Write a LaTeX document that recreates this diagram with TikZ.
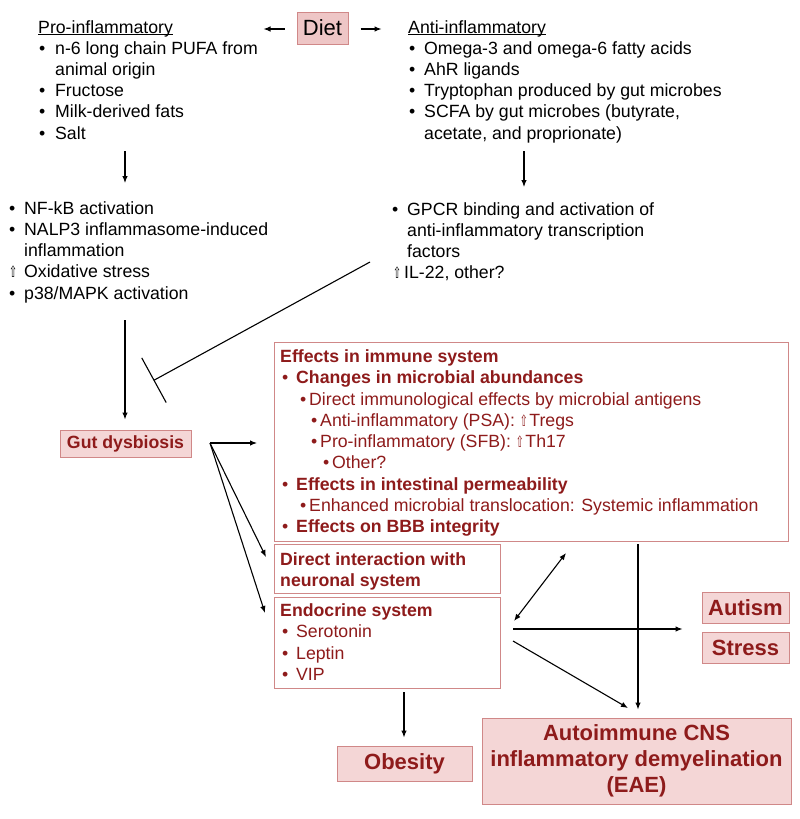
\documentclass[tikz,border=0pt]{standalone}
\usepackage{fontspec}
\usepackage{graphicx}
\setmainfont{Liberation Sans}
\newfontfamily\sym{DejaVu Sans}
\usetikzlibrary{arrows.meta}
\definecolor{dred}{HTML}{8E1B1B}
\definecolor{pinkfill}{HTML}{F4D6D6}
\definecolor{pinkdraw}{HTML}{D08888}
\definecolor{dietfill}{HTML}{EEC6C6}
\newcommand\itm[2]{\hspace*{#1}\makebox[\dimexpr#2-#1\relax][l]{•}}
\newcommand\up{\scalebox{0.62}[1]{\sym\fontsize{15.5}{15.5}\selectfont ⇧}\hspace{1.5pt}}
\newcommand\upi[2]{\hspace*{#1}\makebox[\dimexpr#2-#1\relax][l]{\up}}
\newcommand\ulin[1]{\setbox0\hbox{#1}\rlap{\rule[-2.2pt]{\wd0}{0.9pt}}\box0}
\newcommand\blk[1]{\begin{tabular}[t]{@{}l@{}}#1\end{tabular}}
\tikzset{
  txt/.style={inner sep=0pt, anchor=base west, font=\fontsize{17.7}{21.25}\selectfont},
  rtxt/.style={txt, text=dred},
  wbox/.style={draw=pinkdraw, line width=1pt, fill=white, inner sep=0pt, anchor=north west},
  pbox/.style={draw=pinkdraw, line width=1pt, fill=pinkfill, inner sep=0pt, text=dred},
  arr/.style={-{Latex[length=7pt,width=5.5pt]}, line width=1.1pt},
  darr/.style={{Latex[length=7pt,width=5.5pt]}-{Latex[length=7pt,width=5.5pt]}, line width=1.1pt},
}
\begin{document}
\begin{tikzpicture}[x=1pt,y=-1pt]
\useasboundingbox (0,0) rectangle (800,819);

% Diet
\node[draw=pinkdraw, line width=1pt, fill=dietfill, inner sep=0pt, minimum width=51pt, minimum height=32pt,
      font=\fontsize{22}{26}\selectfont] (diet) at (322.5,28) {Diet};
\draw[arr] ([xshift=-12pt,yshift=-1pt]diet.west) coordinate (dl) -- ++(-21pt,0) coordinate (dle);
\draw[arr] ([xshift=12pt,yshift=-1pt]diet.east) coordinate (dr) -- ++(21pt,0) coordinate (dre);

% top text blocks
\node[txt] (pro) at (38,33) {\blk{%
\ulin{Pro-inflammatory}\\
\itm{1pt}{17pt}n-6 long chain PUFA from\\
\hspace*{17pt}animal origin\\
\itm{1pt}{17pt}Fructose\\
\itm{1pt}{17pt}Milk-derived fats\\
\itm{1pt}{17pt}Salt}};

\node[txt] (anti) at (408,33) {\blk{%
\ulin{Anti-inflammatory}\\
\itm{1pt}{16pt}Omega-3 and omega-6 fatty acids\\
\itm{1pt}{16pt}AhR ligands\\
\itm{1pt}{16pt}Tryptophan produced by gut microbes\\
\itm{1pt}{16pt}SCFA by gut microbes (butyrate,\\
\hspace*{16pt}acetate, and proprionate)}};

% middle text blocks
\node[txt] (procons) at (8,214) {\blk{%
\itm{1pt}{16pt}NF-kB activation\\
\itm{1pt}{16pt}NALP3 inflammasome-induced\\
\hspace*{16pt}inflammation\\
\upi{1pt}{16pt}Oxidative stress\\
\itm{1pt}{16pt}p38/MAPK activation}};

\node[txt] (anticons) at (391,215) {\blk{%
\itm{1pt}{16pt}GPCR binding and activation of\\
\hspace*{16pt}anti-inflammatory transcription\\
\hspace*{16pt}factors\\
\upi{2pt}{13pt}IL-22, other?}};

\coordinate (a1s) at (125,151);
\coordinate (a1e) at (125,183);
\draw[arr] (a1s) -- (a1e);
\coordinate (a2s) at (524,151);
\coordinate (a2e) at (524,187);
\draw[arr] (a2s) -- (a2e);

% Gut dysbiosis
\node[pbox, minimum width=131pt, minimum height=27pt, font=\bfseries\fontsize{17.7}{21}\selectfont]
  (gut) at (125.5,443.5) {Gut dysbiosis};
\coordinate (a3s) at (125,320);
\draw[arr, shorten >=10pt] (a3s) -- (gut.north -| a3s);

% inhibition
\coordinate (inhs) at (370,262);
\coordinate (inhe) at (153.5,380.5);
\draw[-{Bar[width=51pt]}, line width=1.1pt] (inhs) -- (inhe);

% Immune box
\node[wbox, minimum width=514pt, minimum height=199pt] (imm) at (274,342) {};
\node[rtxt] (immtxt) at (280,362.6) {\blk{%
\textbf{Effects in immune system}\\
\itm{2pt}{16pt}\textbf{Changes in microbial abundances}\\
\itm{20pt}{29pt}Direct immunological effects by microbial antigens\\
\itm{31pt}{40pt}Anti-inflammatory (PSA): \up Tregs\\
\itm{31pt}{40pt}Pro-inflammatory (SFB): \up Th17\\
\itm{43pt}{52pt}Other?\\
\itm{2pt}{16pt}\textbf{Effects in intestinal permeability}\\
\itm{20pt}{29pt}Enhanced microbial translocation: Systemic inflammation\\
\itm{2pt}{16pt}\textbf{Effects on BBB integrity}}};

% Direct interaction box
\node[wbox, minimum width=226pt, minimum height=49pt] (dir) at (274,544) {};
\node[rtxt, font=\bfseries\fontsize{17.7}{21.25}\selectfont] (dirtxt) at (280,565) {\blk{%
Direct interaction with\\
neuronal system}};

% Endocrine box
\node[wbox, minimum width=226pt, minimum height=91pt] (endo) at (274,597) {};
\node[rtxt] (endotxt) at (280,616.5) {\blk{%
\textbf{Endocrine system}\\
\itm{2pt}{16pt}Serotonin\\
\itm{2pt}{16pt}Leptin\\
\itm{2pt}{16pt}VIP}};

% outcome boxes
\node[pbox, minimum width=87pt, minimum height=31pt, font=\bfseries\fontsize{22}{26}\selectfont]
  (autism) at (745.5,607.5) {Autism};
\node[pbox, minimum width=87pt, minimum height=31pt, font=\bfseries\fontsize{22}{26}\selectfont]
  (stress) at (745.5,647.5) {Stress};
\node[pbox, minimum width=135pt, minimum height=35pt, font=\bfseries\fontsize{22}{26}\selectfont]
  (obes) at (404.5,763.5) {Obesity};
\node[pbox, minimum width=309pt, minimum height=86pt, align=center, font=\bfseries\fontsize{22}{26}\selectfont]
  (eae) at (636.5,761) {Autoimmune CNS\\inflammatory demyelination\\(EAE)};

% arrows from gut
\coordinate (gs) at (210,443);
\coordinate (g1) at (257,443);
\coordinate (g2) at (266,557);
\coordinate (g3) at (265,613);
\draw[arr] (gs) -- (g1);
\draw[arr] (gs) -- (g2);
\draw[arr] (gs) -- (g3);

% right-side arrows
\coordinate (d1) at (566,553);
\coordinate (d2) at (514,621);
\draw[darr] (d1) -- (d2);
\coordinate (h1) at (513,629);
\draw[arr, shorten >=19pt] (h1) -- (autism.west |- h1);
\coordinate (s1) at (513,641);
\coordinate (s2) at (628,708);
\draw[arr] (s1) -- (s2);
\coordinate (v1) at (638,544);
\draw[arr, shorten >=8pt] (v1) -- (eae.north -| v1);
\coordinate (o1) at (404,692);
\draw[arr, shorten >=8pt] (o1) -- (obes.north -| o1);
\end{tikzpicture}
\end{document}
